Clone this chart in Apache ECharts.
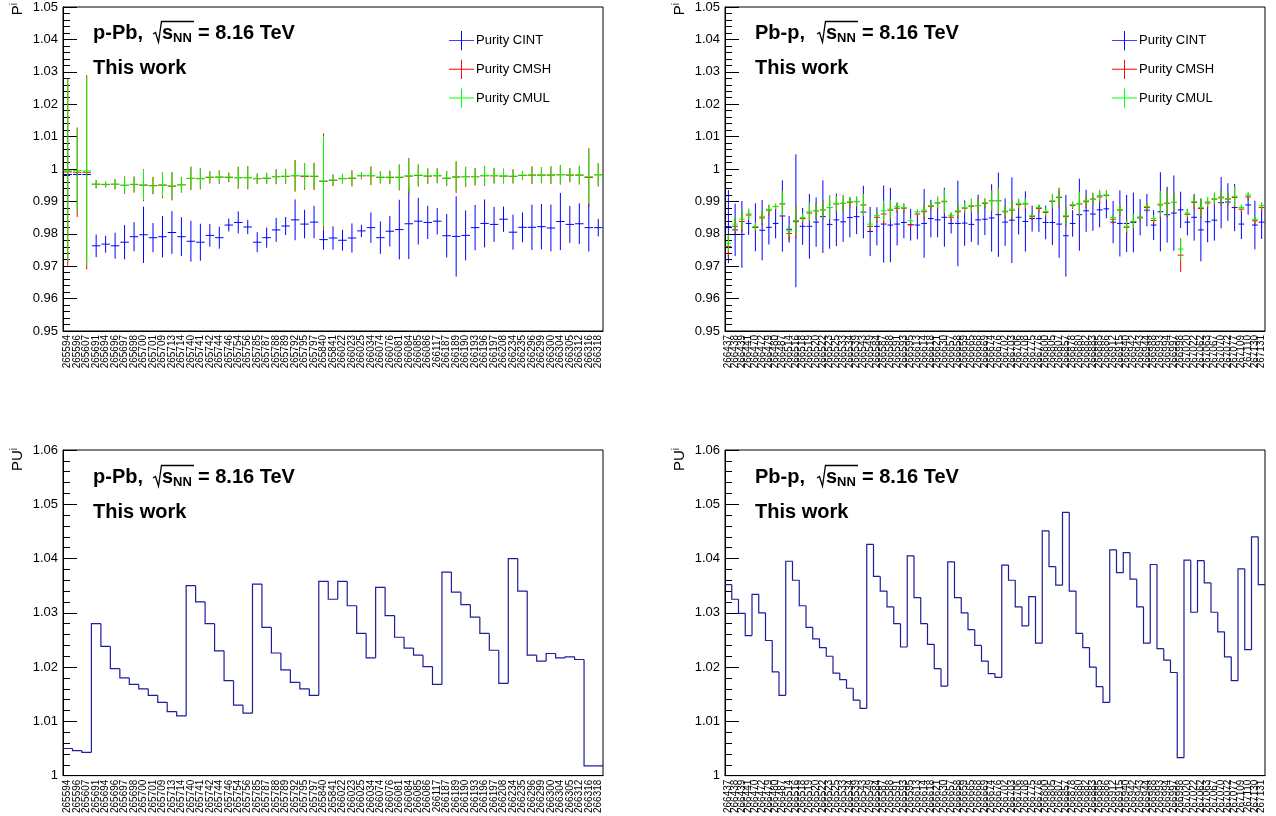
<!DOCTYPE html>
<html><head><meta charset="utf-8">
<script src="https://cdn.jsdelivr.net/npm/echarts@6/dist/echarts.min.js"></script>
<style>html,body{margin:0;padding:0;background:#fff}#c{width:1276px;height:816px}</style>
</head><body><div id="c"></div>
<script>
// ---------- categories ----------
const runsPPb = ['265594','265596','265607','265691','265694','265696','265697','265698','265700','265701',
'265709','265713','265714','265740','265741','265742','265744','265746','265754','265756',
'265785','265787','265788','265789','265792','265795','265797','265840','265841','266022',
'266023','266025','266034','266074','266076','266081','266084','266085','266086','266117',
'266187','266189','266190','266193','266196','266197','266208','266234','266235','266296',
'266299','266300','266304','266305','266312','266316','266318'];
const runsPbp = ['266437','266438','266439','266441','266470','266472','266479','266480','266487','266514',
'266516','266518','266519','266520','266522','266523','266525','266533','266534','266539',
'266543','266549','266584','266587','266588','266591','266593','266595','266613','266614',
'266618','266621','266630','266657','266658','266659','266665','266668','266669','266674',
'266676','266702','266703','266706','266708','266775','266776','266800','266805','266807',
'266857','266878','266880','266882','266883','266885','266886','266912','266915','266940',
'266942','266943','266944','266988','266993','266994','266997','266998','267020','267022',
'267062','267063','267067','267070','267072','267077','267109','267110','267130','267131'];

// ---------- p-Pb purity ----------
const cintPPb = [0.9983,0.9983,0.9983,0.9763,0.9768,0.9763,0.9774,0.9791,0.9797,0.9788,
0.9791,0.9804,0.9791,0.9777,0.9774,0.9795,0.9788,0.9827,0.9835,0.9821,
0.9774,0.9788,0.9812,0.9824,0.9843,0.9830,0.9836,0.9782,0.9787,0.9780,
0.9787,0.9809,0.9819,0.9788,0.9808,0.9813,0.9831,0.9839,0.9835,0.9839,
0.9794,0.9792,0.9795,0.9819,0.9832,0.9829,0.9845,0.9805,0.9820,0.9820,
0.9822,0.9818,0.9838,0.9829,0.9831,0.9819,0.9819];
const cintPPbErr = [0.0005,0.0005,0.0005,0.0035,0.0026,0.0040,0.0053,0.0045,0.0087,0.0045,
0.0064,0.0066,0.0060,0.0063,0.0057,0.0035,0.0034,0.0020,0.0034,0.0022,
0.0031,0.0031,0.0037,0.0028,0.0063,0.0044,0.0050,0.0031,0.0036,0.0032,
0.0045,0.0019,0.0047,0.0050,0.0047,0.0092,0.0109,0.0072,0.0051,0.0041,
0.0067,0.0124,0.0077,0.0070,0.0074,0.0054,0.0039,0.0054,0.0046,0.0070,
0.0070,0.0072,0.0088,0.0057,0.0063,0.0074,0.0027];
const cmshPPb = [0.9991,0.9990,0.9990,0.9953,0.9952,0.9953,0.9950,0.9952,0.9950,0.9949,
0.9950,0.9947,0.9951,0.9971,0.9970,0.9974,0.9975,0.9974,0.9973,0.9973,
0.9970,0.9971,0.9976,0.9977,0.9979,0.9977,0.9977,0.9962,0.9965,0.9970,
0.9971,0.9979,0.9979,0.9974,0.9974,0.9974,0.9978,0.9980,0.9978,0.9979,
0.9971,0.9975,0.9976,0.9976,0.9979,0.9979,0.9978,0.9977,0.9980,0.9981,
0.9981,0.9981,0.9982,0.9981,0.9981,0.9974,0.9982];
const cmshPPbErr = [0.0290,0.0138,0.0300,0.0013,0.0009,0.0016,0.0027,0.0025,0.0049,0.0027,
0.0040,0.0044,0.0024,0.0036,0.0033,0.0019,0.0021,0.0015,0.0034,0.0036,
0.0016,0.0017,0.0023,0.0023,0.0049,0.0041,0.0042,0.0148,0.0018,0.0015,
0.0025,0.0011,0.0029,0.0019,0.0021,0.0040,0.0056,0.0034,0.0024,0.0023,
0.0023,0.0049,0.0031,0.0027,0.0031,0.0024,0.0023,0.0022,0.0014,0.0027,
0.0025,0.0027,0.0030,0.0022,0.0029,0.0090,0.0036];
const cmulPPb = [0.9996,0.9995,0.9994,0.9953,0.9953,0.9953,0.9949,0.9953,0.9951,0.9948,
0.9951,0.9948,0.9952,0.9971,0.9971,0.9975,0.9975,0.9975,0.9974,0.9974,
0.9971,0.9972,0.9977,0.9978,0.9980,0.9979,0.9978,0.9963,0.9966,0.9971,
0.9972,0.9980,0.9980,0.9975,0.9975,0.9975,0.9979,0.9981,0.9979,0.9980,
0.9972,0.9977,0.9977,0.9977,0.9980,0.9980,0.9979,0.9978,0.9981,0.9982,
0.9982,0.9982,0.9983,0.9982,0.9982,0.9976,0.9983];
const cmulPPbErr = [0.0280,0.0128,0.0290,0.0012,0.0008,0.0015,0.0025,0.0023,0.0046,0.0025,
0.0037,0.0041,0.0022,0.0034,0.0031,0.0018,0.0020,0.0014,0.0032,0.0034,
0.0015,0.0016,0.0022,0.0022,0.0046,0.0039,0.0040,0.0140,0.0017,0.0014,
0.0023,0.0010,0.0027,0.0018,0.0020,0.0038,0.0053,0.0032,0.0023,0.0022,
0.0022,0.0046,0.0029,0.0026,0.0029,0.0023,0.0022,0.0021,0.0013,0.0026,
0.0024,0.0026,0.0028,0.0021,0.0027,0.0084,0.0034];

// ---------- Pb-p purity ----------
const cintPbp = [0.9822,0.9812,0.9798,0.9832,0.9820,0.9811,0.9820,0.9832,0.9855,0.9814,
0.9840,0.9823,0.9823,0.9836,0.9853,0.9829,0.9843,0.9837,0.9850,0.9853,
0.9867,0.9807,0.9823,0.9830,0.9827,0.9830,0.9835,0.9828,0.9827,0.9832,
0.9847,0.9843,0.9851,0.9832,0.9832,0.9833,0.9829,0.9843,0.9845,0.9849,
0.9859,0.9836,0.9842,0.9851,0.9838,0.9847,0.9847,0.9835,0.9835,0.9830,
0.9794,0.9832,0.9859,0.9871,0.9861,0.9874,0.9877,0.9836,0.9832,0.9832,
0.9835,0.9851,0.9873,0.9827,0.9868,0.9859,0.9864,0.9874,0.9836,0.9851,
0.9812,0.9837,0.9842,0.9896,0.9898,0.9881,0.9830,0.9889,0.9827,0.9836];
const cintPbpErr = [0.0113,0.0081,0.0103,0.0035,0.0074,0.0093,0.0053,0.0046,0.0110,0.0041,
0.0205,0.0057,0.0100,0.0076,0.0112,0.0075,0.0081,0.0062,0.0061,0.0054,
0.0081,0.0076,0.0059,0.0119,0.0115,0.0066,0.0049,0.0049,0.0044,0.0106,
0.0058,0.0054,0.0091,0.0031,0.0132,0.0070,0.0054,0.0078,0.0049,0.0104,
0.0130,0.0073,0.0132,0.0053,0.0093,0.0040,0.0041,0.0052,0.0070,0.0104,
0.0126,0.0041,0.0111,0.0065,0.0052,0.0054,0.0029,0.0065,0.0102,0.0088,
0.0092,0.0056,0.0050,0.0046,0.0122,0.0086,0.0116,0.0056,0.0041,0.0072,
0.0097,0.0063,0.0063,0.0079,0.0058,0.0073,0.0046,0.0030,0.0075,0.0052];
const cmshPbp = [0.9761,0.9823,0.9838,0.9858,0.9820,0.9849,0.9873,0.9884,0.9892,0.9801,
0.9837,0.9847,0.9864,0.9871,0.9874,0.9881,0.9892,0.9894,0.9897,0.9899,
0.9889,0.9823,0.9851,0.9861,0.9873,0.9879,0.9879,0.9828,0.9861,0.9868,
0.9885,0.9895,0.9899,0.9851,0.9868,0.9879,0.9885,0.9887,0.9894,0.9902,
0.9902,0.9868,0.9873,0.9890,0.9892,0.9853,0.9878,0.9866,0.9900,0.9912,
0.9853,0.9887,0.9892,0.9899,0.9907,0.9914,0.9918,0.9845,0.9873,0.9820,
0.9837,0.9849,0.9881,0.9841,0.9889,0.9894,0.9897,0.9734,0.9860,0.9897,
0.9878,0.9895,0.9907,0.9911,0.9907,0.9912,0.9876,0.9914,0.9840,0.9881];
const cmshPbpErr = [0.0032,0.0025,0.0033,0.0018,0.0014,0.0023,0.0016,0.0009,0.0042,0.0021,
0.0050,0.0014,0.0030,0.0025,0.0030,0.0038,0.0025,0.0026,0.0016,0.0016,
0.0036,0.0017,0.0017,0.0034,0.0030,0.0014,0.0015,0.0009,0.0010,0.0023,
0.0012,0.0020,0.0039,0.0012,0.0020,0.0017,0.0023,0.0023,0.0015,0.0034,
0.0043,0.0020,0.0030,0.0017,0.0016,0.0010,0.0011,0.0014,0.0023,0.0030,
0.0030,0.0011,0.0039,0.0020,0.0020,0.0020,0.0016,0.0014,0.0018,0.0026,
0.0023,0.0011,0.0014,0.0012,0.0042,0.0043,0.0030,0.0052,0.0014,0.0020,
0.0030,0.0016,0.0020,0.0025,0.0020,0.0034,0.0011,0.0011,0.0011,0.0012];
const cmulPbp = [0.9771,0.9830,0.9845,0.9861,0.9823,0.9854,0.9876,0.9884,0.9894,0.9809,
0.9840,0.9850,0.9868,0.9871,0.9874,0.9881,0.9894,0.9894,0.9899,0.9900,
0.9889,0.9830,0.9856,0.9871,0.9876,0.9884,0.9881,0.9840,0.9868,0.9873,
0.9887,0.9897,0.9901,0.9856,0.9871,0.9881,0.9887,0.9887,0.9896,0.9902,
0.9902,0.9870,0.9876,0.9894,0.9894,0.9856,0.9881,0.9869,0.9902,0.9914,
0.9856,0.9890,0.9894,0.9902,0.9907,0.9918,0.9920,0.9850,0.9875,0.9823,
0.9839,0.9851,0.9884,0.9847,0.9892,0.9895,0.9897,0.9753,0.9864,0.9900,
0.9881,0.9899,0.9909,0.9914,0.9909,0.9916,0.9881,0.9920,0.9845,0.9887];
const cmulPbpErr = [0.0026,0.0023,0.0031,0.0017,0.0013,0.0021,0.0015,0.0008,0.0038,0.0018,
0.0046,0.0013,0.0028,0.0023,0.0028,0.0036,0.0023,0.0024,0.0015,0.0015,
0.0034,0.0015,0.0015,0.0031,0.0028,0.0013,0.0014,0.0008,0.0009,0.0021,
0.0011,0.0018,0.0036,0.0011,0.0018,0.0016,0.0021,0.0021,0.0014,0.0031,
0.0040,0.0018,0.0027,0.0015,0.0015,0.0009,0.0010,0.0013,0.0021,0.0028,
0.0028,0.0010,0.0036,0.0018,0.0018,0.0018,0.0015,0.0013,0.0017,0.0018,
0.0021,0.0010,0.0013,0.0011,0.0039,0.0040,0.0028,0.0034,0.0013,0.0018,
0.0027,0.0015,0.0018,0.0023,0.0018,0.0031,0.0010,0.0010,0.0010,0.0011];

// ---------- pile-up factors ----------
const puPPb = [1.0050,1.0046,1.0043,1.0280,1.0238,1.0197,1.0180,1.0168,1.0160,1.0148,
1.0135,1.0118,1.0110,1.0350,1.0320,1.0280,1.0230,1.0175,1.0130,1.0115,
1.0353,1.0273,1.0226,1.0195,1.0172,1.0160,1.0148,1.0358,1.0325,1.0358,
1.0313,1.0262,1.0217,1.0347,1.0295,1.0255,1.0235,1.0222,1.0201,1.0168,
1.0375,1.0338,1.0315,1.0292,1.0262,1.0231,1.0170,1.0400,1.0340,1.0222,
1.0211,1.0225,1.0217,1.0219,1.0214,1.0018,1.0018];
const puPbp = [1.0352,1.0325,1.0299,1.0258,1.0334,1.0300,1.0249,1.0191,1.0148,1.0395,
1.0360,1.0313,1.0273,1.0252,1.0236,1.0220,1.0189,1.0177,1.0161,1.0139,
1.0124,1.0426,1.0367,1.0340,1.0311,1.0280,1.0237,1.0405,1.0328,1.0280,
1.0242,1.0197,1.0165,1.0394,1.0328,1.0300,1.0269,1.0240,1.0211,1.0188,
1.0181,1.0388,1.0360,1.0311,1.0276,1.0330,1.0244,1.0451,1.0385,1.0351,
1.0485,1.0340,1.0262,1.0236,1.0200,1.0164,1.0135,1.0416,1.0374,1.0411,
1.0362,1.0311,1.0244,1.0389,1.0234,1.0213,1.0190,1.0033,1.0397,1.0301,
1.0396,1.0355,1.0301,1.0265,1.0219,1.0175,1.0381,1.0232,1.0440,1.0352];

// ---------- axis ranges ----------
const purityRange = [0.95, 1.05];
const puRange = [1.00, 1.06];
const seriesNames = ['Purity CINT', 'Purity CMSH', 'Purity CMUL'];
const seriesColors = ['#0000ff', '#ff0000', '#00ff00'];
const histColor = '#1c1c9c';

const FF = '"Liberation Sans", Arial, Helvetica, sans-serif';

function errRender(params, api) {
  const i = api.value(0), v = api.value(1), e = api.value(2);
  const cs = params.coordSys;
  const c = api.coord([i, v]);
  const hi = api.coord([i, v + e]);
  const lo = api.coord([i, v - e]);
  const w = api.size([1, 0])[0];
  const cl = y => Math.max(cs.y, Math.min(cs.y + cs.height, y));
  const color = api.visual('color');
  return {type: 'group', children: [
    {type: 'line', shape: {x1: c[0], y1: cl(hi[1]), x2: c[0], y2: cl(lo[1])}, style: {stroke: color, lineWidth: 1}},
    {type: 'line', shape: {x1: c[0] - w / 2 + 0.5, y1: c[1], x2: c[0] + w / 2 - 0.5, y2: c[1]}, style: {stroke: color, lineWidth: 1}}
  ]};
}
function histRender(params, api) {
  const i = api.value(0), v = api.value(1), p = api.value(2);
  const w = api.size([1, 0])[0];
  const c = api.coord([i, v]);
  const pc = api.coord([i, p]);
  const l = c[0] - w / 2, r = c[0] + w / 2;
  const pts = i === 0 ? [[l, c[1]], [r, c[1]]] : [[l, pc[1]], [l, c[1]], [r, c[1]]];
  return {type: 'polyline', shape: {points: pts}, style: {stroke: histColor, lineWidth: 1.2, fill: null}};
}
const errData = (vals, errs) => vals.map((v, i) => [i, v, errs[i]]);
const histData = vals => vals.map((v, i) => [i, v, i > 0 ? vals[i - 1] : v]);

function xAxisCfg(gi, runs) {
  return {type: 'category', gridIndex: gi, data: runs, boundaryGap: true,
    axisLine: {lineStyle: {color: '#000', width: 1}},
    axisTick: {inside: true, length: 9, lineStyle: {color: '#000'}},
    axisLabel: {interval: 0, rotate: 90, fontSize: 10, fontFamily: FF, color: '#000', margin: 4},
    splitLine: {show: false}};
}
function yAxisCfg(gi, range) {
  return {type: 'value', gridIndex: gi, min: range[0], max: range[1], interval: 0.01,
    axisLine: {show: true, lineStyle: {color: '#000', width: 1}},
    axisTick: {show: true, inside: true, length: 14, lineStyle: {color: '#000'}},
    minorTick: {show: true, splitNumber: 5, length: 7, lineStyle: {color: '#000'}},
    axisLabel: {fontSize: 13, fontFamily: FF, color: '#000', margin: 5},
    splitLine: {show: false}, minorSplitLine: {show: false}};
}

const grids = [
  {left: 63, top: 7, width: 540, height: 324},
  {left: 725, top: 7, width: 540, height: 324},
  {left: 63, top: 450, width: 540, height: 326},
  {left: 725, top: 450, width: 540, height: 326}
].map(g => Object.assign(g, {show: true, borderColor: '#000', borderWidth: 1, backgroundColor: 'transparent'}));

const series = [];
const pData = [[cintPPb, cintPPbErr, cmshPPb, cmshPPbErr, cmulPPb, cmulPPbErr],
               [cintPbp, cintPbpErr, cmshPbp, cmshPbpErr, cmulPbp, cmulPbpErr]];
pData.forEach((d, gi) => {
  for (let k = 0; k < 3; k++) {
    series.push({type: 'custom', name: seriesNames[k], xAxisIndex: gi, yAxisIndex: gi,
      renderItem: errRender, itemStyle: {color: seriesColors[k]}, clip: true,
      encode: {x: 0, y: 1}, data: errData(d[2 * k], d[2 * k + 1]), z: 2 + k});
  }
});
series.push({type: 'custom', name: 'PU p-Pb', xAxisIndex: 2, yAxisIndex: 2, renderItem: histRender,
  itemStyle: {color: histColor}, clip: true, encode: {x: 0, y: 1}, data: histData(puPPb)});
series.push({type: 'custom', name: 'PU Pb-p', xAxisIndex: 3, yAxisIndex: 3, renderItem: histRender,
  itemStyle: {color: histColor}, clip: true, encode: {x: 0, y: 1}, data: histData(puPbp)});

const plusIcon = 'path://M0,9.5L26,9.5L26,10.5L0,10.5Z M12.5,0L13.5,0L13.5,20L12.5,20Z';
function legendCfg(left) {
  return {left: left, top: 26, orient: 'vertical', itemWidth: 25, itemHeight: 20, itemGap: 9.5,
    selectedMode: false, textStyle: {fontSize: 13, fontFamily: FF, color: '#000', padding: [0, 0, 0, -3]},
    data: seriesNames.map(n => ({name: n, icon: plusIcon}))};
}

function headerText(X, Y, sys) {
  const t = (x, y, text, size) => ({type: 'text', x: x, y: y, silent: true,
    style: {text: text, fontSize: size, fontWeight: 'bold', fontFamily: FF, fill: '#000', verticalAlign: 'middle'}});
  const off = sys === 'Pb-p,' ? 2 : 0;
  return [
    t(X, Y, sys, 20),
    {type: 'polyline', silent: true, shape: {points: [[X + 60 + off, Y + 1], [X + 62.5 + off, Y - 0.5], [X + 65.5 + off, Y + 9], [X + 68.5 + off, Y - 11.5], [X + 101 + off, Y - 11.5]]},
      style: {stroke: '#000', lineWidth: 1.3, fill: null}},
    t(X + 69 + off, Y, 's', 20),
    t(X + 80 + off, Y + 5, 'NN', 13),
    t(X + 105 + off, Y, '= 8.16 TeV', 20),
    t(X, Y + 35, 'This work', 20)
  ];
}
function yTitle(x, y, main) {
  return {type: 'text', x: x, y: y, rotation: Math.PI / 2, silent: true,
    style: {text: '{a|' + main + '}{b|i}', align: 'right', verticalAlign: 'middle', fill: '#000',
      rich: {a: {fontSize: 15, fontFamily: FF, fill: '#000'}, b: {fontSize: 10, fontFamily: FF, fill: '#000', verticalAlign: 'top', padding: [0, 0, 8, 0]}}}};
}

const graphic = [].concat(
  headerText(93, 33, 'p-Pb,'),
  headerText(755, 33, 'Pb-p,'),
  headerText(93, 477, 'p-Pb,'),
  headerText(755, 477, 'Pb-p,'),
  [yTitle(18, 3, 'P'), yTitle(680, 3, 'P'), yTitle(18, 448, 'PU'), yTitle(680, 448, 'PU')]
);

const chart = echarts.init(document.getElementById('c'), null, {renderer: 'canvas'});
chart.setOption({
  animation: false,
  backgroundColor: '#fff',
  grid: grids,
  xAxis: [xAxisCfg(0, runsPPb), xAxisCfg(1, runsPbp), xAxisCfg(2, runsPPb), xAxisCfg(3, runsPbp)],
  yAxis: [yAxisCfg(0, purityRange), yAxisCfg(1, purityRange), yAxisCfg(2, puRange), yAxisCfg(3, puRange)],
  legend: [legendCfg(444), legendCfg(1107)],
  series: series,
  graphic: graphic
});
</script></body></html>
